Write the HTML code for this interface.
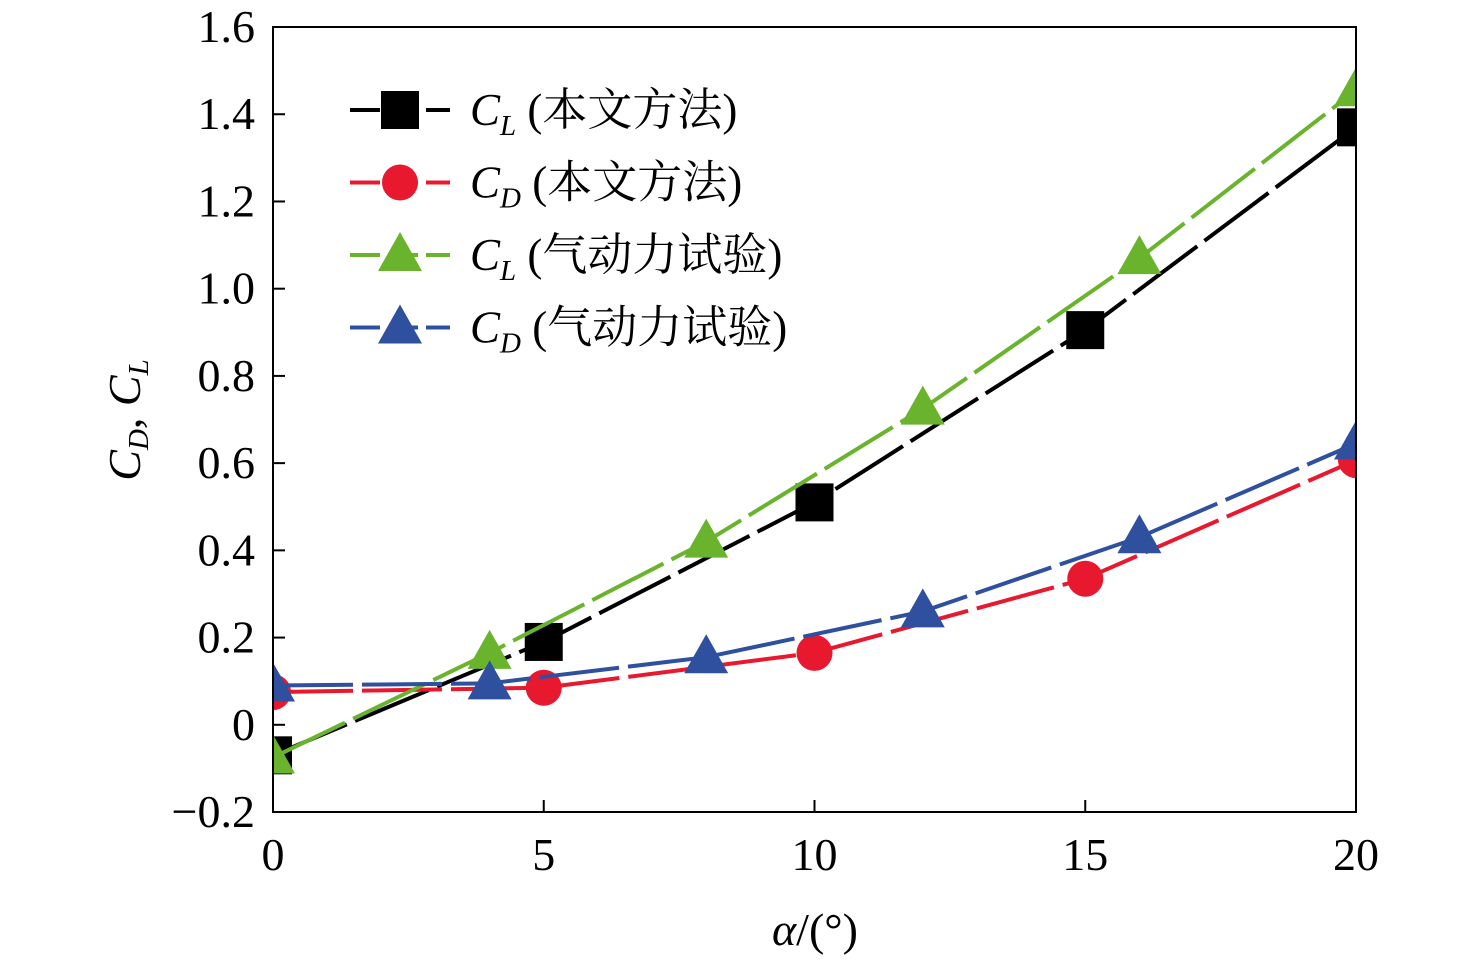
<!DOCTYPE html>
<html><head><meta charset="utf-8"><style>
body{margin:0;background:#fff;}
text{font-family:"Liberation Serif","Times New Roman","Noto Serif CJK SC",serif;fill:#000;}
</style></head><body>
<svg id="chart" width="1476" height="960" xmlns="http://www.w3.org/2000/svg">
<defs><clipPath id="pc"><rect x="273" y="27" width="1083" height="785"/></clipPath></defs>
<g id="plot" clip-path="url(#pc)"></g>
<rect x="273" y="27" width="1083" height="785" fill="none" stroke="#000" stroke-width="2"/>
<g id="axes"></g>
<g id="legend"></g>
<text x="140" y="420" font-size="46" font-style="italic" transform="rotate(-90 140 420)" text-anchor="middle">C<tspan font-size="29" dy="8">D</tspan><tspan dy="-8" font-style="normal">, </tspan>C<tspan font-size="29" dy="8">L</tspan></text>
<text x="815" y="945" font-size="46" text-anchor="middle"><tspan font-style="italic">α</tspan>/(°)</text>
</svg>
<script>
const xTicks=[0,5,10,15,20];
const yTicks=[-0.2,0,0.2,0.4,0.6,0.8,1.0,1.2,1.4,1.6];
const yTickLabels=["−0.2","0","0.2","0.4","0.6","0.8","1.0","1.2","1.4","1.6"];
const xMethod=[0,5,10,15,20];
const clMethod=[-0.07,0.19,0.51,0.905,1.37];
const cdMethod=[0.075,0.085,0.165,0.335,0.607];
const xExp=[0,4,8,12,16,20];
const clExp=[-0.075,0.165,0.42,0.725,1.07,1.455];
const cdExp=[0.09,0.095,0.155,0.26,0.43,0.645];
const legendLabels=["本文方法","本文方法","气动力试验","气动力试验"];
const legendSubs=["L","D","L","D"];

const NS="http://www.w3.org/2000/svg";
const X=v=>273+v*(1083/20);
const Y=v=>724.8-v*(785/1.8);
function mk(t,a,p){const e=document.createElementNS(NS,t);for(const k in a)e.setAttribute(k,a[k]);p.appendChild(e);return e;}
const axes=document.getElementById('axes');
xTicks.forEach(t=>{
 const l=mk('line',{x1:X(t),x2:X(t),y1:812,y2:800,stroke:'#000','stroke-width':2},axes);
 
 
 const tx=mk('text',{x:X(t),y:870,'font-size':46,'text-anchor':'middle'},axes);tx.textContent=t;
 
 
});
yTicks.forEach((t,i)=>{
 const l=mk('line',{x1:273,x2:285,y1:Y(t),y2:Y(t),stroke:'#000','stroke-width':2},axes);
 
 
 const tx=mk('text',{x:255,y:Y(t)+15,'font-size':46,'text-anchor':'end'},axes);tx.textContent=yTickLabels[i];
 
 
});
function marker(kind,cx,cy,col,p){
 let e;
 if(kind==='sq')e=mk('rect',{x:cx-19,y:cy-19,width:38,height:38,fill:col},p);
 else if(kind==='ci')e=mk('circle',{cx:cx,cy:cy,r:18,fill:col},p);
 else e=mk('polygon',{points:`${cx},${cy-23} ${cx+22},${cy+16} ${cx-22},${cy+16}`,fill:col},p);
 return e;
}
const series=[
 {xs:xMethod,ys:clMethod,col:'#000',m:'sq',n:'cl-method'},
 {xs:xMethod,ys:cdMethod,col:'#e8182e',m:'ci',n:'cd-method'},
 {xs:xExp,ys:clExp,col:'#6ab42d',m:'tr',n:'cl-experiment'},
 {xs:xExp,ys:cdExp,col:'#2f4f9f',m:'tr',n:'cd-experiment'}];
const plot=document.getElementById('plot');
series.forEach(s=>{
 const pl=mk('polyline',{points:s.xs.map((x,i)=>X(x)+','+Y(s.ys[i])).join(' '),fill:'none',stroke:s.col,'stroke-width':4,'stroke-dasharray':'80 9'},plot);
 
 
 s.xs.forEach((x,i)=>{const e=marker(s.m,X(x),Y(s.ys[i]),s.col,plot);
  
  });
});
const lg=document.getElementById('legend');
series.forEach((s,i)=>{
 const y=110+i*72.5;
 const g=mk('g',{},lg);
 
 
 mk('line',{x1:350,x2:450,y1:y,y2:y,stroke:s.col,'stroke-width':4,'stroke-dasharray':'30 8'},g);
 marker(s.m,400,y,s.col,g);
 const t=mk('text',{x:470,y:y+15,'font-size':45},g);
 t.innerHTML=`<tspan font-style="italic">C</tspan><tspan font-style="italic" font-size="29" dy="10">${legendSubs[i]}</tspan><tspan dy="-10"> (${legendLabels[i]})</tspan>`;
});
</script>
</body></html>
